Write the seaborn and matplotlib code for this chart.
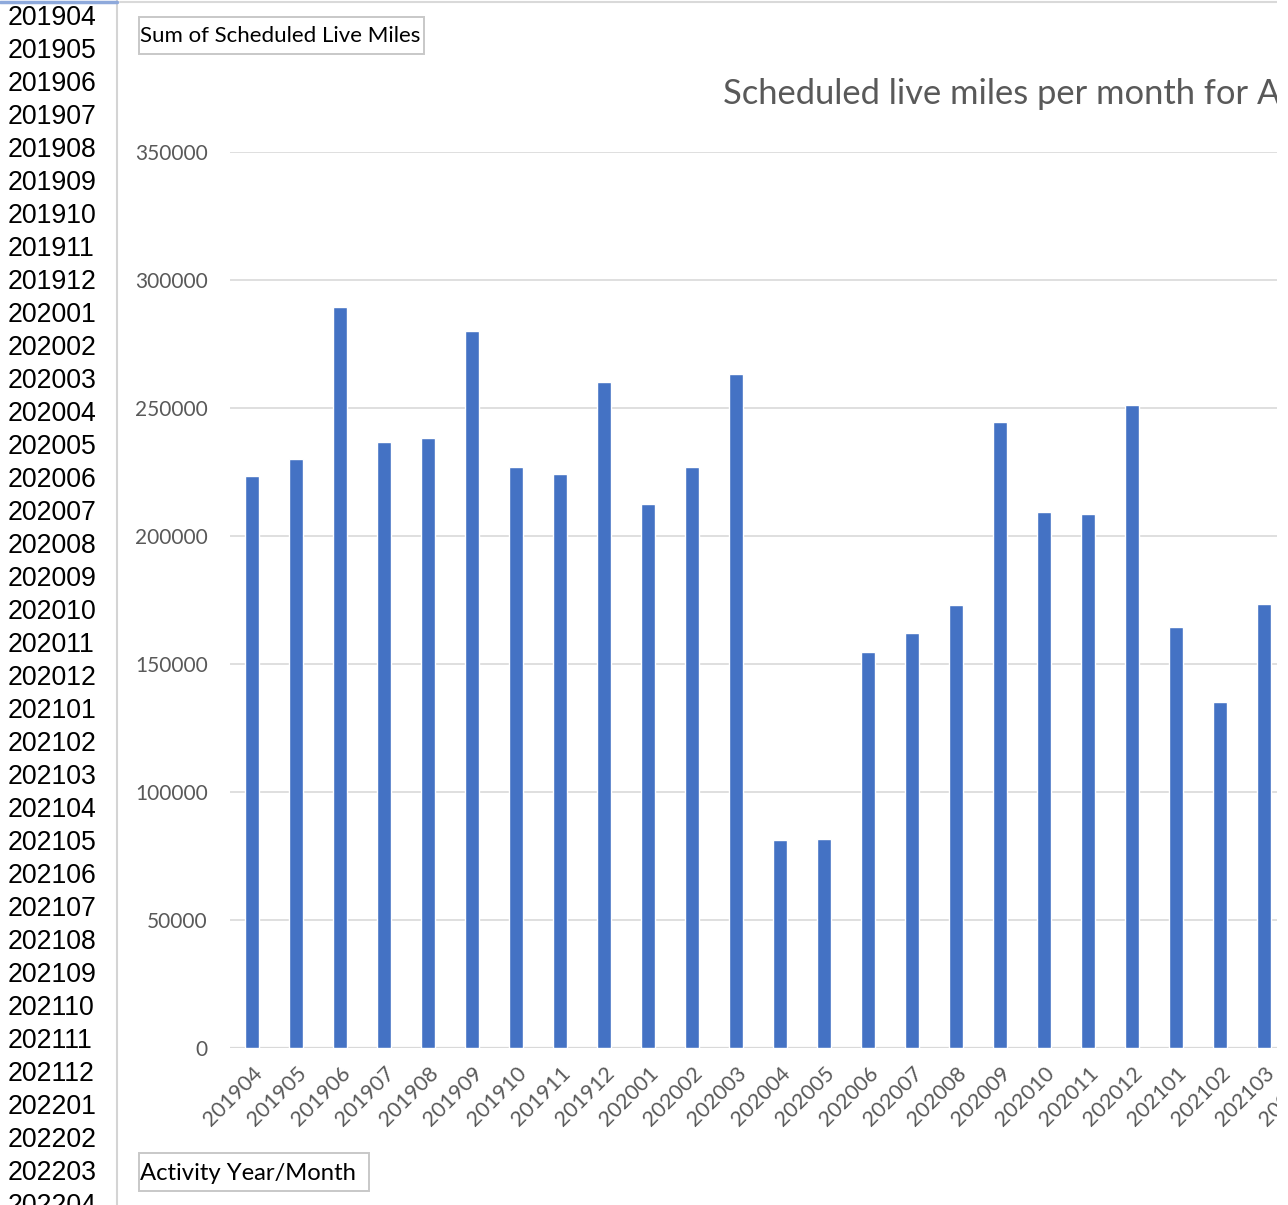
"""
Pivot chart: scheduled live miles per month (cropped Excel screenshot look).
"""

import numpy as np
import pandas as pd
import matplotlib
matplotlib.use("Agg")
import matplotlib.pyplot as plt
from matplotlib.patches import Rectangle
from matplotlib.lines import Line2D
import seaborn as sns

# ── Data ─────────────────────────────────────────────────────────────────────
ROW_LABELS = [
    "201904", "201905", "201906", "201907", "201908", "201909", "201910",
    "201911", "201912", "202001", "202002", "202003", "202004", "202005",
    "202006", "202007", "202008", "202009", "202010", "202011", "202012",
    "202101", "202102", "202103", "202104", "202105", "202106", "202107",
    "202108", "202109", "202110", "202111", "202112", "202201", "202202",
    "202203", "202204",
]

# visible bars; 202104 only shows a clipped tick label at the right edge
MONTHS = [
    "201904", "201905", "201906", "201907", "201908", "201909", "201910",
    "201911", "201912", "202001", "202002", "202003", "202004", "202005",
    "202006", "202007", "202008", "202009", "202010", "202011", "202012",
    "202101", "202102", "202103", "202104",
]
MILES = [
    223400, 230100, 289500, 236700, 238300, 280100, 227000,
    224200, 260200, 212500, 227000, 263300, 81300, 81600,
    154700, 162100, 173000, 244500, 209400, 208600, 251200,
    164500, 135200, 173400, np.nan,
]

Y_TICKS = [0, 50000, 100000, 150000, 200000, 250000, 300000, 350000]

TITLE = "Scheduled live miles per month for A"
VALUE_FIELD = "Sum of Scheduled Live Miles"
AXIS_FIELD = "Activity Year/Month"

# ── Style ────────────────────────────────────────────────────────────────────
W, H, DPI = 1288, 1205, 100
BAR_COLOR = "#4472C4"
GRID_COLOR = "#D9D9D9"
TEXT_GRAY = "#595959"
CHART_FONT = "Lato"
SHEET_FONT = "Liberation Sans"

sns.set_theme(style="white")
plt.rcParams["font.family"] = [CHART_FONT, "DejaVu Sans"]


def fx(x):
    return x / W


def fy(y):
    return 1 - y / H


def field_button(fig, x0, y0, x1, y1, label, size):
    fig.add_artist(Rectangle((fx(x0), fy(y1)), fx(x1 - x0), (y1 - y0) / H,
                             transform=fig.transFigure, fill=False,
                             edgecolor="#C8C8C8", lw=1.4))
    fig.text(fx(x0 + 1), fy((y0 + y1) / 2 + 1), label, ha="left", va="center",
             fontsize=size, color="black")


df = pd.DataFrame({"month": MONTHS, "miles": MILES})

fig = plt.figure(figsize=(W / DPI, H / DPI), dpi=DPI)

# plot area: left at 230px, 0 at y=1048px, 350000 at y=152px, 44px per month
ax = fig.add_axes([fx(230), fy(1048), fx(len(MONTHS) * 44), (1048 - 152) / H])
sns.barplot(data=df, x="month", y="miles", order=MONTHS, color=BAR_COLOR,
            saturation=1, width=0.32, errorbar=None, ax=ax)

ax.set_xlim(-0.5, len(MONTHS) - 0.5)
ax.set_ylim(0, 350000)
ax.set_yticks(Y_TICKS)
ax.set_yticklabels([str(v) for v in Y_TICKS])
ax.set_xticks(range(len(MONTHS)))
ax.set_xticklabels(MONTHS, rotation=45, ha="right", rotation_mode="anchor")
ax.set_xlabel("")
ax.set_ylabel("")
ax.grid(True, axis="y", color=GRID_COLOR, lw=1.2)
ax.set_axisbelow(True)
for side in ["top", "right", "left", "bottom"]:
    ax.spines[side].set_visible(False)
ax.axhline(0, color=GRID_COLOR, lw=1.6, zorder=0.5)
ax.tick_params(axis="y", length=0, pad=16, labelsize=15, labelcolor=TEXT_GRAY)
ax.tick_params(axis="x", length=0, pad=11, labelsize=15.5, labelcolor=TEXT_GRAY)

# chart title (full chart is wider than the crop)
fig.text(fx(723), fy(104), TITLE, ha="left", va="baseline",
         fontsize=24.8, color=TEXT_GRAY)

# pivot field buttons
field_button(fig, 139, 17, 424, 54, VALUE_FIELD, 16)
field_button(fig, 139, 1153, 369, 1191, AXIS_FIELD, 17.2)

# spreadsheet column on the left
for i, lab in enumerate(ROW_LABELS):
    fig.text(fx(8), fy(18 + 33 * i), lab, ha="left", va="center",
             fontsize=19.2, color="black", family=SHEET_FONT)

fig.add_artist(Line2D([fx(117), fx(117)], [0, 1], color="#D4D4D4", lw=1.5))
fig.add_artist(Line2D([0, fx(117)], [fy(1.5), fy(1.5)], color="#8EA9DB", lw=2.5))
fig.add_artist(Line2D([fx(120), fx(1277)], [fy(1.5), fy(1.5)],
                      color=GRID_COLOR, lw=1.5))

# crop edge of the screenshot
fig.add_artist(Rectangle((fx(1277), 0), fx(W - 1277), 1, transform=fig.transFigure,
                         facecolor="white", edgecolor="none", zorder=10))

fig.savefig("out.png", dpi=DPI)
plt.close(fig)
